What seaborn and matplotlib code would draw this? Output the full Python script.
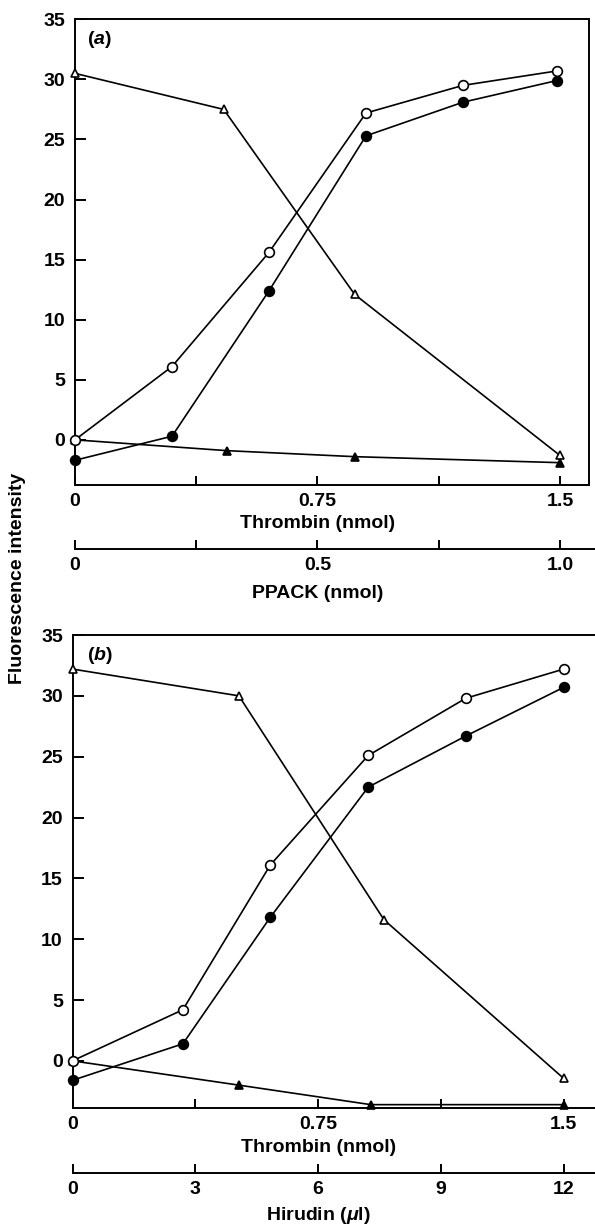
import matplotlib
matplotlib.use("Agg")
import matplotlib.pyplot as plt
import seaborn as sns

# ---- data -------------------------------------------------------------
# panel (a): thrombin titration in the presence of PPACK
circ_x_a = [0.0, 0.30, 0.60, 0.90, 1.20, 1.49]
open_circ_a = [0.0, 6.1, 15.6, 27.2, 29.5, 30.7]
filled_circ_a = [-1.7, 0.3, 12.4, 25.3, 28.1, 29.9]
open_tri_x_a = [0.0, 0.46, 0.865, 1.5]
open_tri_a = [30.5, 27.5, 12.1, -1.3]
filled_tri_x_a = [0.0, 0.47, 0.865, 1.5]
filled_tri_a = [0.0, -0.9, -1.4, -1.9]

# panel (b): thrombin titration in the presence of hirudin
circ_x_b = [0.0, 0.337, 0.604, 0.903, 1.201, 1.5]
open_circ_b = [0.0, 4.2, 16.1, 25.1, 29.8, 32.2]
filled_circ_b = [-1.6, 1.4, 11.8, 22.5, 26.7, 30.7]
open_tri_x_b = [0.0, 0.508, 0.951, 1.5]
open_tri_b = [32.2, 30.0, 11.6, -1.45]
filled_tri_x_b = [0.0, 0.509, 0.911, 1.5]
filled_tri_b = [0.0, -2.0, -3.6, -3.6]

thrombin_ticks = [0, 0.375, 0.75, 1.125, 1.5]
thrombin_labels = ["0", "", "0.75", "", "1.5"]
ppack_ticks = [0, 0.25, 0.5, 0.75, 1.0]
ppack_labels = ["0", "", "0.5", "", "1.0"]
hirudin_ticks = [0, 3, 6, 9, 12]
hirudin_labels = ["0", "3", "6", "9", "12"]
y_ticks = [0, 5, 10, 15, 20, 25, 30, 35]

# ---- style ------------------------------------------------------------
sns.set_style("ticks")
plt.rcParams["font.family"] = ["Liberation Sans", "DejaVu Sans"]
plt.rcParams["font.weight"] = "bold"
plt.rcParams["text.color"] = "black"
plt.rcParams["axes.labelcolor"] = "black"
plt.rcParams["xtick.color"] = "black"
plt.rcParams["ytick.color"] = "black"
plt.rcParams["mathtext.fontset"] = "custom"
plt.rcParams["mathtext.rm"] = "Liberation Sans:bold"
plt.rcParams["mathtext.it"] = "Liberation Sans:italic:bold"
plt.rcParams["mathtext.bf"] = "Liberation Sans:bold"

FS = 14
LW = 1.2
SPINE = 1.4
W, H = 595, 1226

fig = plt.figure(figsize=(W / 100, H / 100), dpi=100)
fig.patch.set_facecolor("white")


def box(x0, ytop, x1, ybot):
    return [x0 / W, 1 - ybot / H, (x1 - x0) / W, (ybot - ytop) / H]


def style_axis(ax, xticks, xlabels, pad=5.5):
    ax.set_xticks(xticks)
    ax.set_xticklabels(xlabels)
    ax.tick_params(axis="x", direction="in", length=6.5, width=SPINE,
                   labelsize=FS, pad=pad, colors="black")
    for lab in ax.get_xticklabels():
        lab.set_fontweight("bold")


def draw_series(ax, x, y, marker, face, size):
    sns.lineplot(x=x, y=y, ax=ax, color="black", linewidth=LW,
                 marker=marker, markersize=size, markerfacecolor=face,
                 markeredgecolor="black", markeredgewidth=1.2,
                 sort=False, legend=False)
    ax.lines[-1].set_clip_on(False)


def main_panel(ax, xmax, ymin, series, tag, tag_xy):
    for x, y, m, f, s in series:
        draw_series(ax, x, y, m, f, s)
    ax.set_xlim(0, xmax)
    ax.set_ylim(ymin, 35)
    ax.set_xlabel("")
    ax.set_ylabel("")
    style_axis(ax, thrombin_ticks, thrombin_labels)
    ax.set_yticks(y_ticks)
    ax.set_yticklabels([str(v) for v in y_ticks])
    ax.tick_params(axis="y", direction="in", length=8, width=SPINE,
                   labelsize=FS, pad=7, colors="black")
    for lab in ax.get_yticklabels():
        lab.set_fontweight("bold")
    for sp in ax.spines.values():
        sp.set_linewidth(SPINE)
        sp.set_color("black")
    for sp in ("left", "bottom"):
        ax.spines[sp].set_zorder(0.5)
    ax.set_facecolor("none")
    ax.text(tag_xy[0], tag_xy[1], tag, transform=fig.transFigure,
            fontsize=FS, ha="left", va="center")


def scale_axis(ax, xmax, ticks, labels):
    ax.set_xlim(0, xmax)
    ax.set_ylim(0, 1)
    ax.set_yticks([])
    for sp in ("left", "right", "top"):
        ax.spines[sp].set_visible(False)
    ax.spines["bottom"].set_linewidth(SPINE)
    ax.spines["bottom"].set_color("black")
    ax.set_facecolor("none")
    style_axis(ax, ticks, labels)


# ---- panel (a) --------------------------------------------------------
ax_a = fig.add_axes(box(75, 19.3, 589, 485.5))
xmax_a = (589 - 75) / 323.3
main_panel(
    ax_a, xmax_a, -3.8,
    [
        (open_tri_x_a, open_tri_a, "^", "white", 6.3),
        (filled_tri_x_a, filled_tri_a, "^", "black", 6.3),
        (circ_x_a, filled_circ_a, "o", "black", 7),
        (circ_x_a, open_circ_a, "o", "white", 7),
    ],
    r"($\mathit{a}$)", (87 / W, 1 - 39 / H),
)

ax_pp = fig.add_axes(box(75, 540, 610, 549.3))
scale_axis(ax_pp, (610 - 75) / 323.3 / 1.5, ppack_ticks, ppack_labels)

# ---- panel (b) --------------------------------------------------------
ax_b = fig.add_axes(box(72.5, 635, 610, 1108.3))
xmax_b = (610 - 72.5) / 327.5
main_panel(
    ax_b, xmax_b, -3.9,
    [
        (open_tri_x_b, open_tri_b, "^", "white", 6.3),
        (filled_tri_x_b, filled_tri_b, "^", "black", 6.3),
        (circ_x_b, filled_circ_b, "o", "black", 7),
        (circ_x_b, open_circ_b, "o", "white", 7),
    ],
    r"($\mathit{b}$)", (87 / W, 1 - 656 / H),
)

ax_h = fig.add_axes(box(72.5, 1164, 610, 1173.3))
scale_axis(ax_h, xmax_b * 8, hirudin_ticks, hirudin_labels)

# ---- axis titles ------------------------------------------------------
def label(x, y, s, rot=0):
    fig.text(x / W, 1 - y / H, s, fontsize=FS, ha="center", va="center",
             rotation=rot, fontweight="bold")


label(75 + 0.75 * 323.3, 523, "Thrombin (nmol)")
label(75 + 0.75 * 323.3, 594, "PPACK (nmol)")
label(72.5 + 0.75 * 327.5, 1148, "Thrombin (nmol)")
label(72.5 + 0.75 * 327.5, 1215, r"Hirudin ($\mathit{\mu}$l)")
label(18, 578, "Fluorescence intensity", rot=90)

fig.savefig("out.png", dpi=100, facecolor="white")
